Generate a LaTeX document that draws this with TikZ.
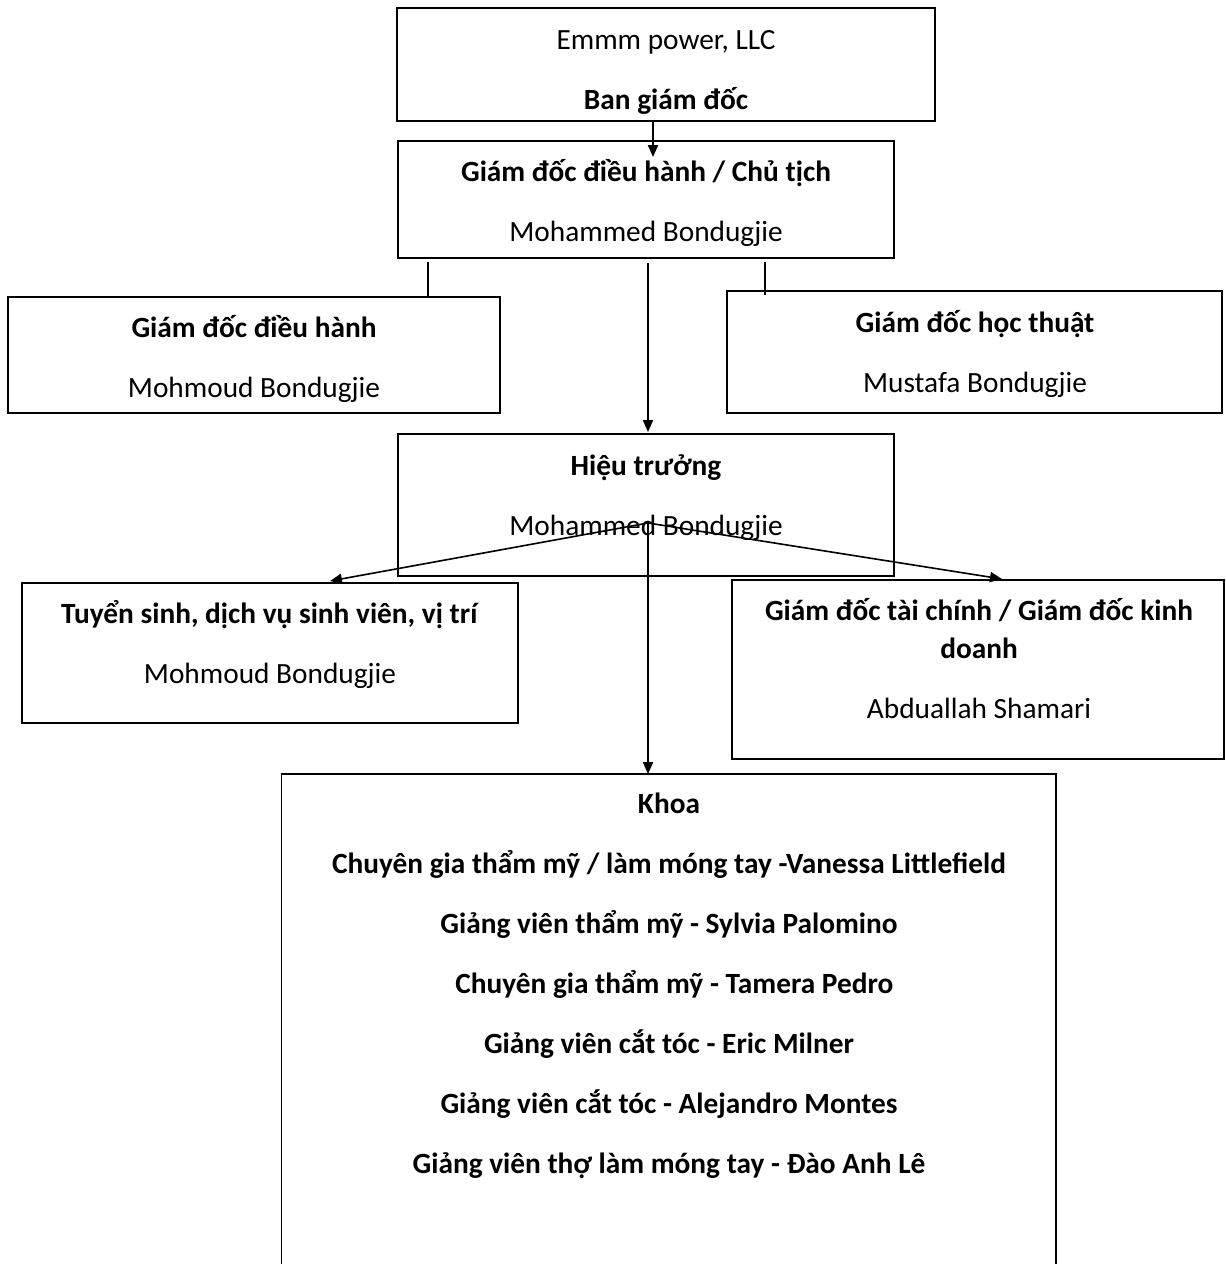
\documentclass[tikz,border=0pt]{standalone}
\usepackage{fontspec}
\setmainfont{Carlito}
\usetikzlibrary{positioning,calc,arrows.meta}
\tikzset{
  frame/.style={rectangle, draw=black, line width=0.6pt, inner sep=0pt, outer sep=0pt},
  caption/.style={align=center, inner sep=0pt, font=\fontsize{11}{22.5}\selectfont},
}
\begin{document}
\begin{tikzpicture}[
        x=0.375pt, y=-0.375pt,
        line/.style={-{Triangle[length=4.5pt,width=3.8pt]}, line width=0.6pt},
        link/.style={line width=0.6pt},
      ]
      \useasboundingbox (0,0) rectangle (1225,1264);
      \clip (0,0) rectangle (1225,1264);
      % boxes
      \node (Board) [frame, minimum width=201.75pt, minimum height=42.375pt] at (666,64.5) {};
      \node (Ceo) [frame, minimum width=186pt, minimum height=43.875pt] at (646,199.5) {};
      \node (Coo) [frame, minimum width=184.5pt, minimum height=43.5pt] at (254,355) {};
      \node (Cao) [frame, minimum width=185.625pt, minimum height=45.75pt] at (974.5,352) {};
      \node (Principal) [frame, minimum width=186pt, minimum height=53.25pt] at (646,505) {};
      \node (Admissions) [frame, minimum width=186pt, minimum height=52.5pt] at (270,653) {};
      \node (Cfo) [frame, minimum width=184.5pt, minimum height=67.125pt] at (978,669.5) {};
      \node (Faculty) [frame, anchor=north west, minimum width=290.44pt, minimum height=210pt] at (281.5,774) {};
      % texts
      \node (BoardText) [caption] at ($(Board.center)+(0,8)$)
            {Emmm power, LLC\\ \textbf{Ban giám đốc}};
      \node (CeoText) [caption] at ($(Ceo.center)+(0,3.5)$)
            {\textbf{Giám đốc điều hành / Chủ tịch}\\ Mohammed Bondugjie};
      \node (CooText) [caption] at ($(Coo.center)+(0,4)$)
            {\textbf{Giám đốc điều hành}\\ Mohmoud Bondugjie};
      \node (CaoText) [caption] at ($(Cao.center)+(0.5,1.5)$)
            {\textbf{Giám đốc học thuật}\\ Mustafa Bondugjie};
      \node (PrincipalText) [caption] at ($(Principal.center)+(0,-7)$)
            {\textbf{Hiệu trưởng}\\ Mohammed Bondugjie};
      \node (AdmissionsText) [caption] at ($(Admissions.center)+(0,-8.5)$)
            {\textbf{Tuyển sinh, dịch vụ sinh viên, vị trí}\\ Mohmoud Bondugjie};
      \node (CfoText) [caption] at ($(Cfo.center)+(1,-11)$)
            {\textbf{Giám đốc tài chính / Giám đốc kinh}\\[-8.25pt] \textbf{doanh}\\ Abduallah Shamari};
      \node (FacultyText) [caption, font=\fontsize{11}{22.5}\selectfont\bfseries] at (669,985.5)
            {Khoa\\
             Chuyên gia thẩm mỹ / làm móng tay -Vanessa Littlefield\\
             Giảng viên thẩm mỹ - Sylvia Palomino\\
             \hspace*{4pt}Chuyên gia thẩm mỹ - Tamera Pedro\\
             Giảng viên cắt tóc - Eric Milner\\
             Giảng viên cắt tóc - Alejandro Montes\\
             Giảng viên thợ làm móng tay - Đào Anh Lê};
      % connectors
      \coordinate (Fork) at ($(Principal.center)+(2,18)$);
      \draw [line] ($(Board.south)+(-13,0)$) -- ($(Ceo.north)+(7,16)$);
      \draw [link] ($(Ceo.south west)+(30,4)$) -- ($(Coo.north east)+(-72,1)$);
      \draw [link] ($(Ceo.south east)+(-129,4)$) -- ($(Cao.north west)+(38,4)$);
      \draw [line] ($(Ceo.south)+(2,5)$) -- ($(Principal.north)+(2,-2)$);
      \draw [line] (Fork) -- ($(Admissions.north)+(60,-2)$);
      \draw [line] (Fork) -- ($(Cfo.north)+(24,-1)$);
      \draw [line] (Fork) -- ($(Faculty.north)+(-20.75,0)$);
    \end{tikzpicture}
\end{document}
